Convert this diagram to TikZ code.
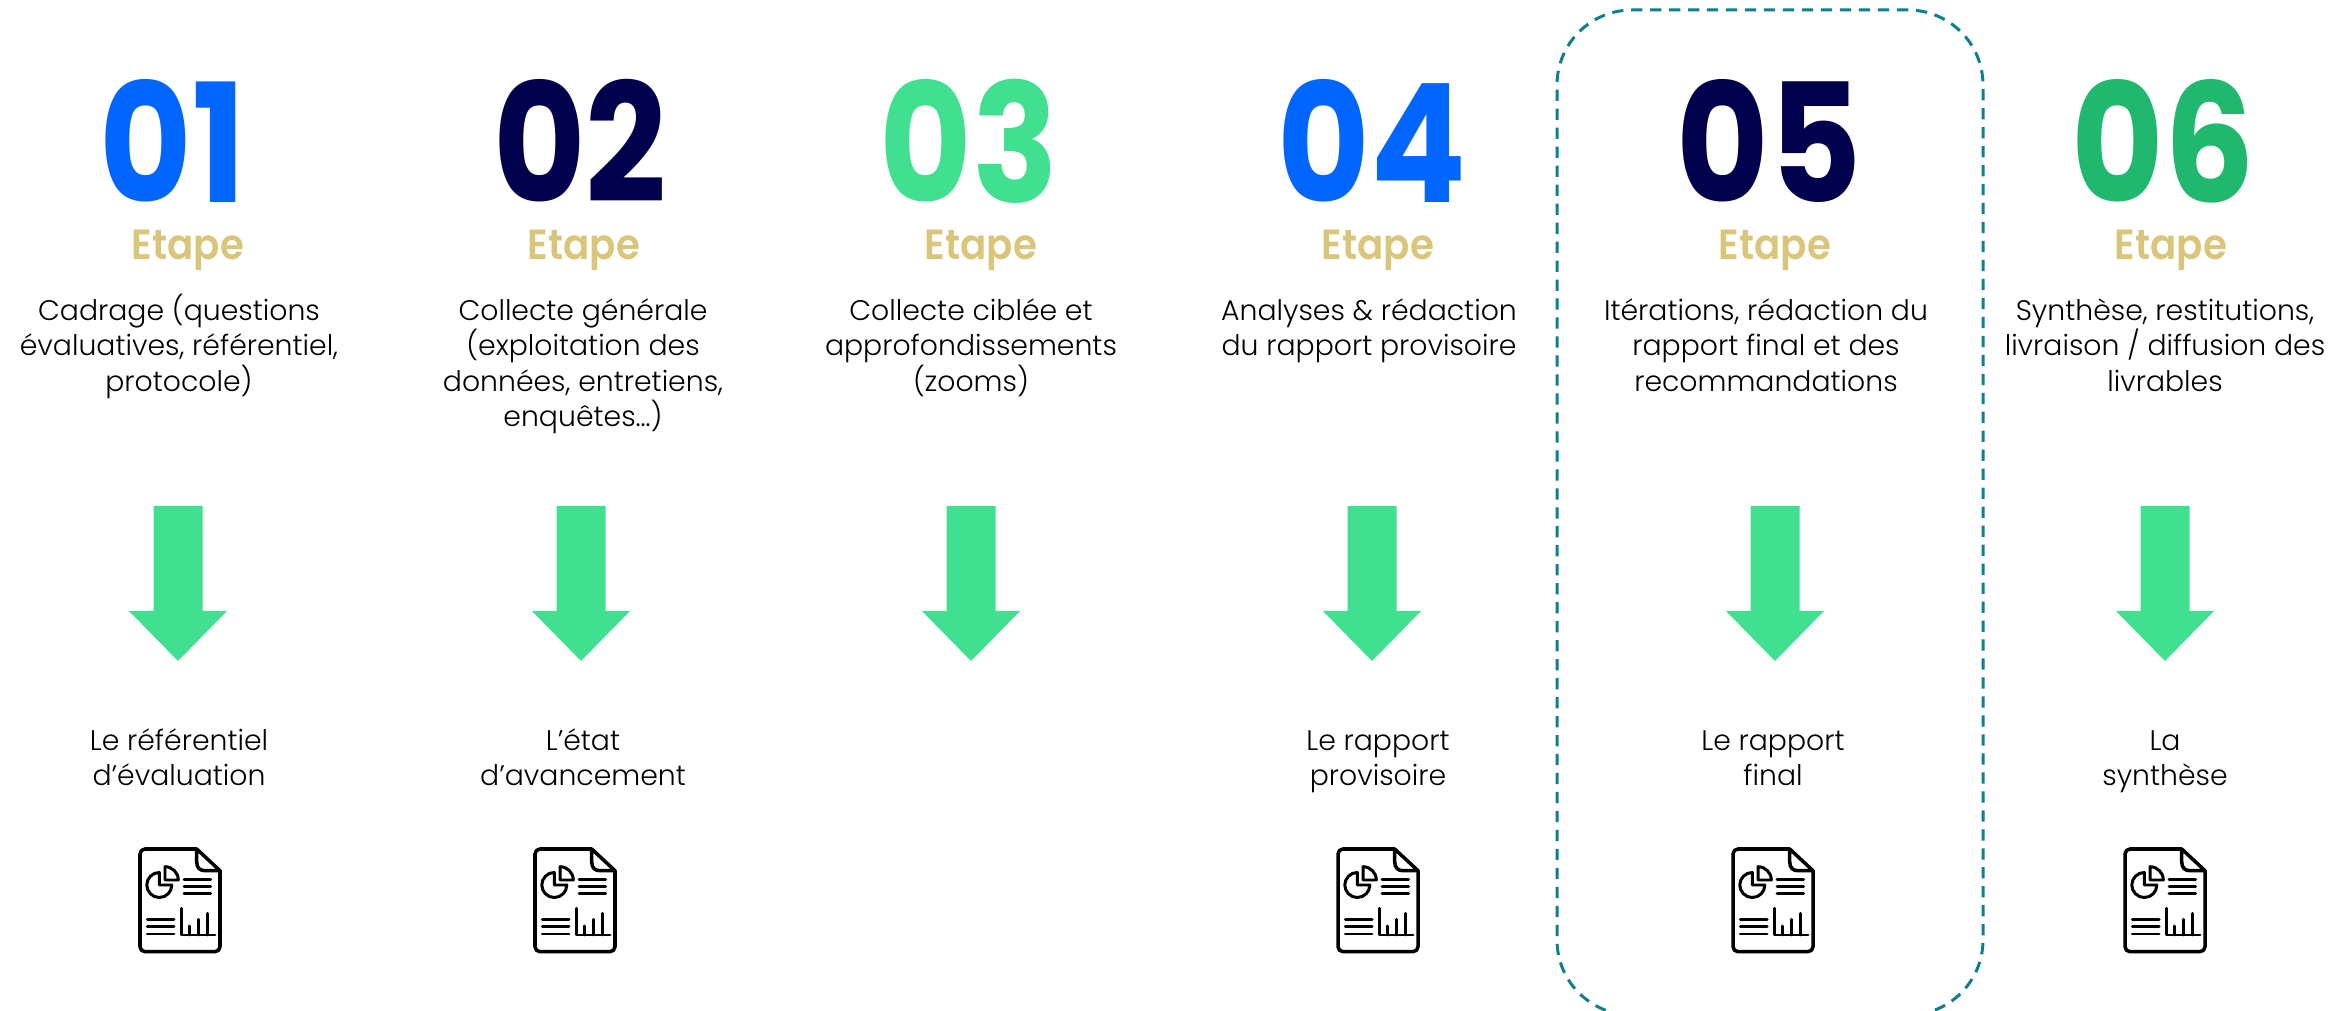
\documentclass[tikz,border=0pt]{standalone}
\usepackage{fontspec}
\setmainfont[UprightFont=* Light, BoldFont=* Bold]{Poppins}
\newfontfamily\numfont[FakeStretch=0.86, UprightFont=* Bold]{Poppins}
\newfontfamily\tagfont[FakeStretch=0.92, UprightFont=* SemiBold]{Poppins}
\usetikzlibrary{positioning}
\definecolor{stepblue}{RGB}{0, 102, 255}
\definecolor{stepnavy}{RGB}{0, 0, 77}
\definecolor{stepgreen}{RGB}{64, 224, 144}
\definecolor{stepdark}{RGB}{32, 184, 110}
\definecolor{stepgold}{RGB}{217, 198, 122}
\definecolor{boxteal}{RGB}{14, 127, 142}
\newcommand{\topline}{\rule{0pt}{10pt}}
\tikzset{
  stepnum/.style={font=\fontsize{47}{47}\selectfont\numfont, anchor=base, inner sep=0pt},
  steptag/.style={font=\fontsize{12}{12}\selectfont\tagfont, stepgold, anchor=base, inner sep=0pt},
  bodytext/.style={font=\fontsize{8.05}{10.1}\selectfont, text=black, align=center, anchor=north, inner sep=0pt},
  downarrow/.pic={
    \fill[stepgreen] (-0.245, 0.775) -- (0.245, 0.775) -- (0.245, -0.275) -- (0.49, -0.275)
      -- (0, -0.775) -- (-0.49, -0.275) -- (-0.245, -0.275) -- cycle;
  },
  docicon/.pic={
    \draw[line width=1pt, line cap=round, line join=round, rounded corners=0.05cm]
      (0.167, 0.51) -- (-0.40, 0.51) -- (-0.40, -0.517) -- (0.40, -0.517) -- (0.40, 0.293);
    \draw[line width=1pt, line cap=round, line join=round]
      (0.40, 0.293) -- (0.167, 0.51) -- (0.167, 0.383)
      .. controls (0.167, 0.32) and (0.2, 0.293) .. (0.25, 0.293) -- cycle;
    % pie chart
    \draw[line width=0.85pt, line join=round]
      (-0.082, 0.15) arc[start angle=0, end angle=-270, radius=0.125] -- (-0.207, 0.15) -- cycle;
    \draw[line width=0.85pt, line join=round]
      (-0.15, 0.333) arc[start angle=90, end angle=0, radius=0.133] -- (-0.15, 0.2) -- cycle;
    % text lines
    \draw[line width=0.85pt, line cap=round]
      (0.04, 0.207) -- (0.307, 0.207) (0.04, 0.137) -- (0.307, 0.137) (0.04, 0.067) -- (0.307, 0.067)
      (-0.327, -0.193) -- (-0.06, -0.193) (-0.327, -0.267) -- (-0.06, -0.267) (-0.327, -0.34) -- (-0.06, -0.34);
    % bar chart
    \draw[line width=0.85pt, line cap=round, line join=round]
      (0.017, -0.083) -- (0.017, -0.35) -- (0.35, -0.35)
      (0.093, -0.26) -- (0.093, -0.35) (0.187, -0.193) -- (0.187, -0.35) (0.273, -0.133) -- (0.273, -0.35);
  }
}

\begin{document}
\begin{tikzpicture}
  \useasboundingbox (0, 0) rectangle (23.49, -10.11);
  \clip (0, 0) rectangle (23.49, -10.11);

  % Dashed frame
  \node[draw=boxteal, line width=0.85pt, dash pattern=on 3.2pt off 2.2pt, rounded corners=0.75cm, outer sep=0pt,
    minimum width=4.26cm, minimum height=10.05cm, anchor=north west] (frame) at (15.57, -0.10) {};

  % Step 1
  \begin{scope}[xshift=1.78cm]
    \node[stepnum, stepblue] (num1) at (-0.05, -2.03) {01};
    \node[steptag] (tag1) at (0.10, -2.60) {Etape};
    \node[bodytext] (task1) at (0.01, -2.845) {\topline Cadrage (questions\\évaluatives, référentiel,\\protocole)};
    \pic (arrow1) at (0, -5.835) {downarrow};
    \node[bodytext] (out1) at (0.01, -7.145) {\topline Le référentiel\\d’évaluation};
    \pic (doc1) at (0.02, -9.00) {docicon};
  \end{scope}

  % Step 2
  \begin{scope}[xshift=5.81cm]
    \node[stepnum, stepnavy] (num2) at (-0.01, -2.03) {02};
    \node[steptag] (tag2) at (0.03, -2.60) {Etape};
    \node[bodytext] (task2) at (0.02, -2.845) {\topline Collecte générale\\(exploitation des\\données, entretiens,\\enquêtes…)};
    \pic (arrow2) at (0, -5.835) {downarrow};
    \node[bodytext] (out2) at (0.02, -7.145) {\topline L’état\\d’avancement};
    \pic (doc2) at (-0.06, -9.00) {docicon};
  \end{scope}

  % Step 3
  \begin{scope}[xshift=9.71cm]
    \node[stepnum, stepgreen] (num3) at (-0.02, -2.03) {03};
    \node[steptag] (tag3) at (0.10, -2.60) {Etape};
    \node[bodytext] (task3) at (0, -2.845) {\topline Collecte ciblée et\\approfondissements\\(zooms)};
    \pic (arrow3) at (0, -5.835) {downarrow};
  \end{scope}

  % Step 4
  \begin{scope}[xshift=13.72cm]
    \node[stepnum, stepblue] (num4) at (0, -2.03) {04};
    \node[steptag] (tag4) at (0.06, -2.60) {Etape};
    \node[bodytext] (task4) at (-0.03, -2.845) {\topline Analyses \& rédaction\\du rapport provisoire};
    \pic (arrow4) at (0, -5.835) {downarrow};
    \node[bodytext] (out4) at (0.06, -7.145) {\topline Le rapport\\provisoire};
    \pic (doc4) at (0.06, -9.00) {docicon};
  \end{scope}

  % Step 5
  \begin{scope}[xshift=17.75cm]
    \node[stepnum, stepnavy] (num5) at (-0.06, -2.03) {05};
    \node[steptag] (tag5) at (0, -2.60) {Etape};
    \node[bodytext] (task5) at (-0.09, -2.845) {\topline Itérations, rédaction du\\rapport final et des\\recommandations};
    \pic (arrow5) at (0, -5.835) {downarrow};
    \node[bodytext] (out5) at (-0.02, -7.145) {\topline Le rapport\\final};
    \pic (doc5) at (-0.02, -9.00) {docicon};
  \end{scope}

  % Step 6
  \begin{scope}[xshift=21.65cm]
    \node[stepnum, stepdark] (num6) at (-0.02, -2.03) {06};
    \node[steptag] (tag6) at (0.06, -2.60) {Etape};
    \node[bodytext] (task6) at (0, -2.845) {\topline Synthèse, restitutions,\\livraison / diffusion des\\livrables};
    \pic (arrow6) at (0, -5.835) {downarrow};
    \node[bodytext] (out6) at (0, -7.145) {\topline La\\synthèse};
    \pic (doc6) at (0, -9.00) {docicon};
  \end{scope}
\end{tikzpicture}
\end{document}
